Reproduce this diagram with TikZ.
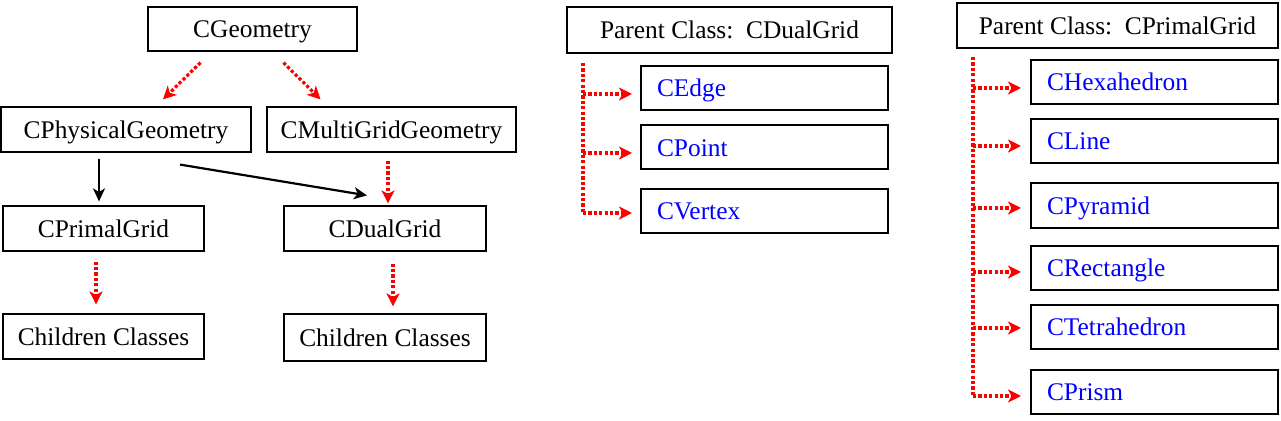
\documentclass[tikz,border=0pt]{standalone}
\usepackage{fontspec}
\setmainfont{Liberation Serif}
\usetikzlibrary{arrows.meta,calc}
\tikzset{
  txt/.style={font=\fontsize{12.7}{15}\selectfont, text height=12.1pt, text depth=3.3pt},
  thinbox/.style={txt, draw=black, line width=0.6pt, inner sep=0pt},
  thickbox/.style={txt, draw=black, line width=1pt, inner sep=0pt},
  childbox/.style={txt, draw=black, line width=1pt, inner ysep=0pt, inner xsep=8pt, text width=107.5pt, align=left, minimum height=22pt, text=blue},
  redline/.style={draw=red, line width=1.6pt, dash pattern=on 1.6pt off 1.1pt},
  redarrow/.style={redline, -{Stealth[length=6.5pt,width=6.5pt,inset=1.8pt]}},
  blackarrow/.style={draw=black, line width=1.1pt, -{Stealth[length=6.5pt,width=6pt,inset=1.8pt]}}
}
\begin{document}
\begin{tikzpicture}[x=0.5pt,y=-0.5pt]
\useasboundingbox (0,0) rectangle (1281,421);
% left tree
\node[thinbox, minimum width=104.5pt, minimum height=22pt] (geo) at (252.5,29) {CGeometry};
\node[thinbox, minimum width=125pt, minimum height=22.5pt] (phys) at (126,129.5) {CPhysicalGeometry};
\node[thinbox, minimum width=124.5pt, minimum height=22.5pt] (multi) at (391.5,129.5) {CMultiGridGeometry};
\node[thinbox, minimum width=100.5pt, minimum height=22.5pt] (primal) at (103.5,228.5) {CPrimalGrid};
\node[thinbox, minimum width=101pt, minimum height=22.5pt] (dual) at (385,228.5) {CDualGrid};
\node[thinbox, minimum width=100.5pt, minimum height=22.5pt] (ch1) at (103.5,336.5) {Children Classes};
\node[thinbox, minimum width=101pt, minimum height=23.5pt] (ch2) at (385,337.5) {Children Classes};

\draw[redarrow] ($(geo.south)+(-52,11)$) -- ($(phys.north)+(37,-7)$);
\draw[redarrow] ($(geo.south)+(31,11)$) -- ($(multi.north)+(-71,-7)$);
\draw[blackarrow] ($(phys.south)+(-27,6)$) -- ($(primal.north)+(-4.5,-4)$);
\draw[blackarrow] ($(phys.south)+(54,12)$) -- ($(dual.north)+(-18,-10)$);
\draw[redarrow] ($(multi.south)+(-3.5,8)$) -- ($(dual.north)+(3,-2)$);
\draw[redarrow] ($(primal.south)+(-7.5,10)$) -- ($(ch1.north)+(-7.5,-9)$);
\draw[redarrow] ($(dual.south)+(8,12)$) -- ($(ch2.north)+(8,-7)$);

% middle group
\node[thickbox, minimum width=162.5pt, minimum height=23pt] (pd) at (729.5,30) {Parent Class:\hspace{0.5em}CDualGrid};
\node[childbox] (edge) at (764.5,88) {CEdge};
\node[childbox] (point) at (764.5,147.5) {CPoint};
\node[childbox] (vertex) at (764.5,211) {CVertex};
\coordinate (dt) at ($(pd.south west)+(17,9)$);
\coordinate (ea) at ($(edge.west)+(-8,6)$);
\coordinate (pa) at ($(point.west)+(-8,5.5)$);
\coordinate (va) at ($(vertex.west)+(-8,2)$);
\draw[redline] (dt) -- (dt |- va);
\draw[redarrow] (dt |- ea) -- (ea);
\draw[redarrow] (dt |- pa) -- (pa);
\draw[redarrow] (dt |- va) -- (va);

% right group
\node[thickbox, minimum width=160.5pt, minimum height=22.5pt] (pp) at (1117.5,25.5) {Parent Class:\hspace{0.5em}CPrimalGrid};
\node[childbox] (hexa) at (1154.5,82) {CHexahedron};
\node[childbox] (cline) at (1154.5,141) {CLine};
\node[childbox, minimum height=22.5pt] (pyr) at (1154.5,205.5) {CPyramid};
\node[childbox] (rect) at (1154.5,268) {CRectangle};
\node[childbox] (tetra) at (1154.5,327) {CTetrahedron};
\node[childbox] (prism) at (1154.5,392) {CPrism};
\coordinate (pt) at ($(pp.south west)+(17,8)$);
\coordinate (ha) at ($(hexa.west)+(-9,6)$);
\coordinate (la) at ($(cline.west)+(-9,5)$);
\coordinate (ya) at ($(pyr.west)+(-9,2.5)$);
\coordinate (ra) at ($(rect.west)+(-9,4)$);
\coordinate (ta) at ($(tetra.west)+(-9,1)$);
\coordinate (sa) at ($(prism.west)+(-9,4)$);
\draw[redline] (pt) -- (pt |- sa);
\draw[redarrow] (pt |- ha) -- (ha);
\draw[redarrow] (pt |- la) -- (la);
\draw[redarrow] (pt |- ya) -- (ya);
\draw[redarrow] (pt |- ra) -- (ra);
\draw[redarrow] (pt |- ta) -- (ta);
\draw[redarrow] (pt |- sa) -- (sa);
\end{tikzpicture}
\end{document}
